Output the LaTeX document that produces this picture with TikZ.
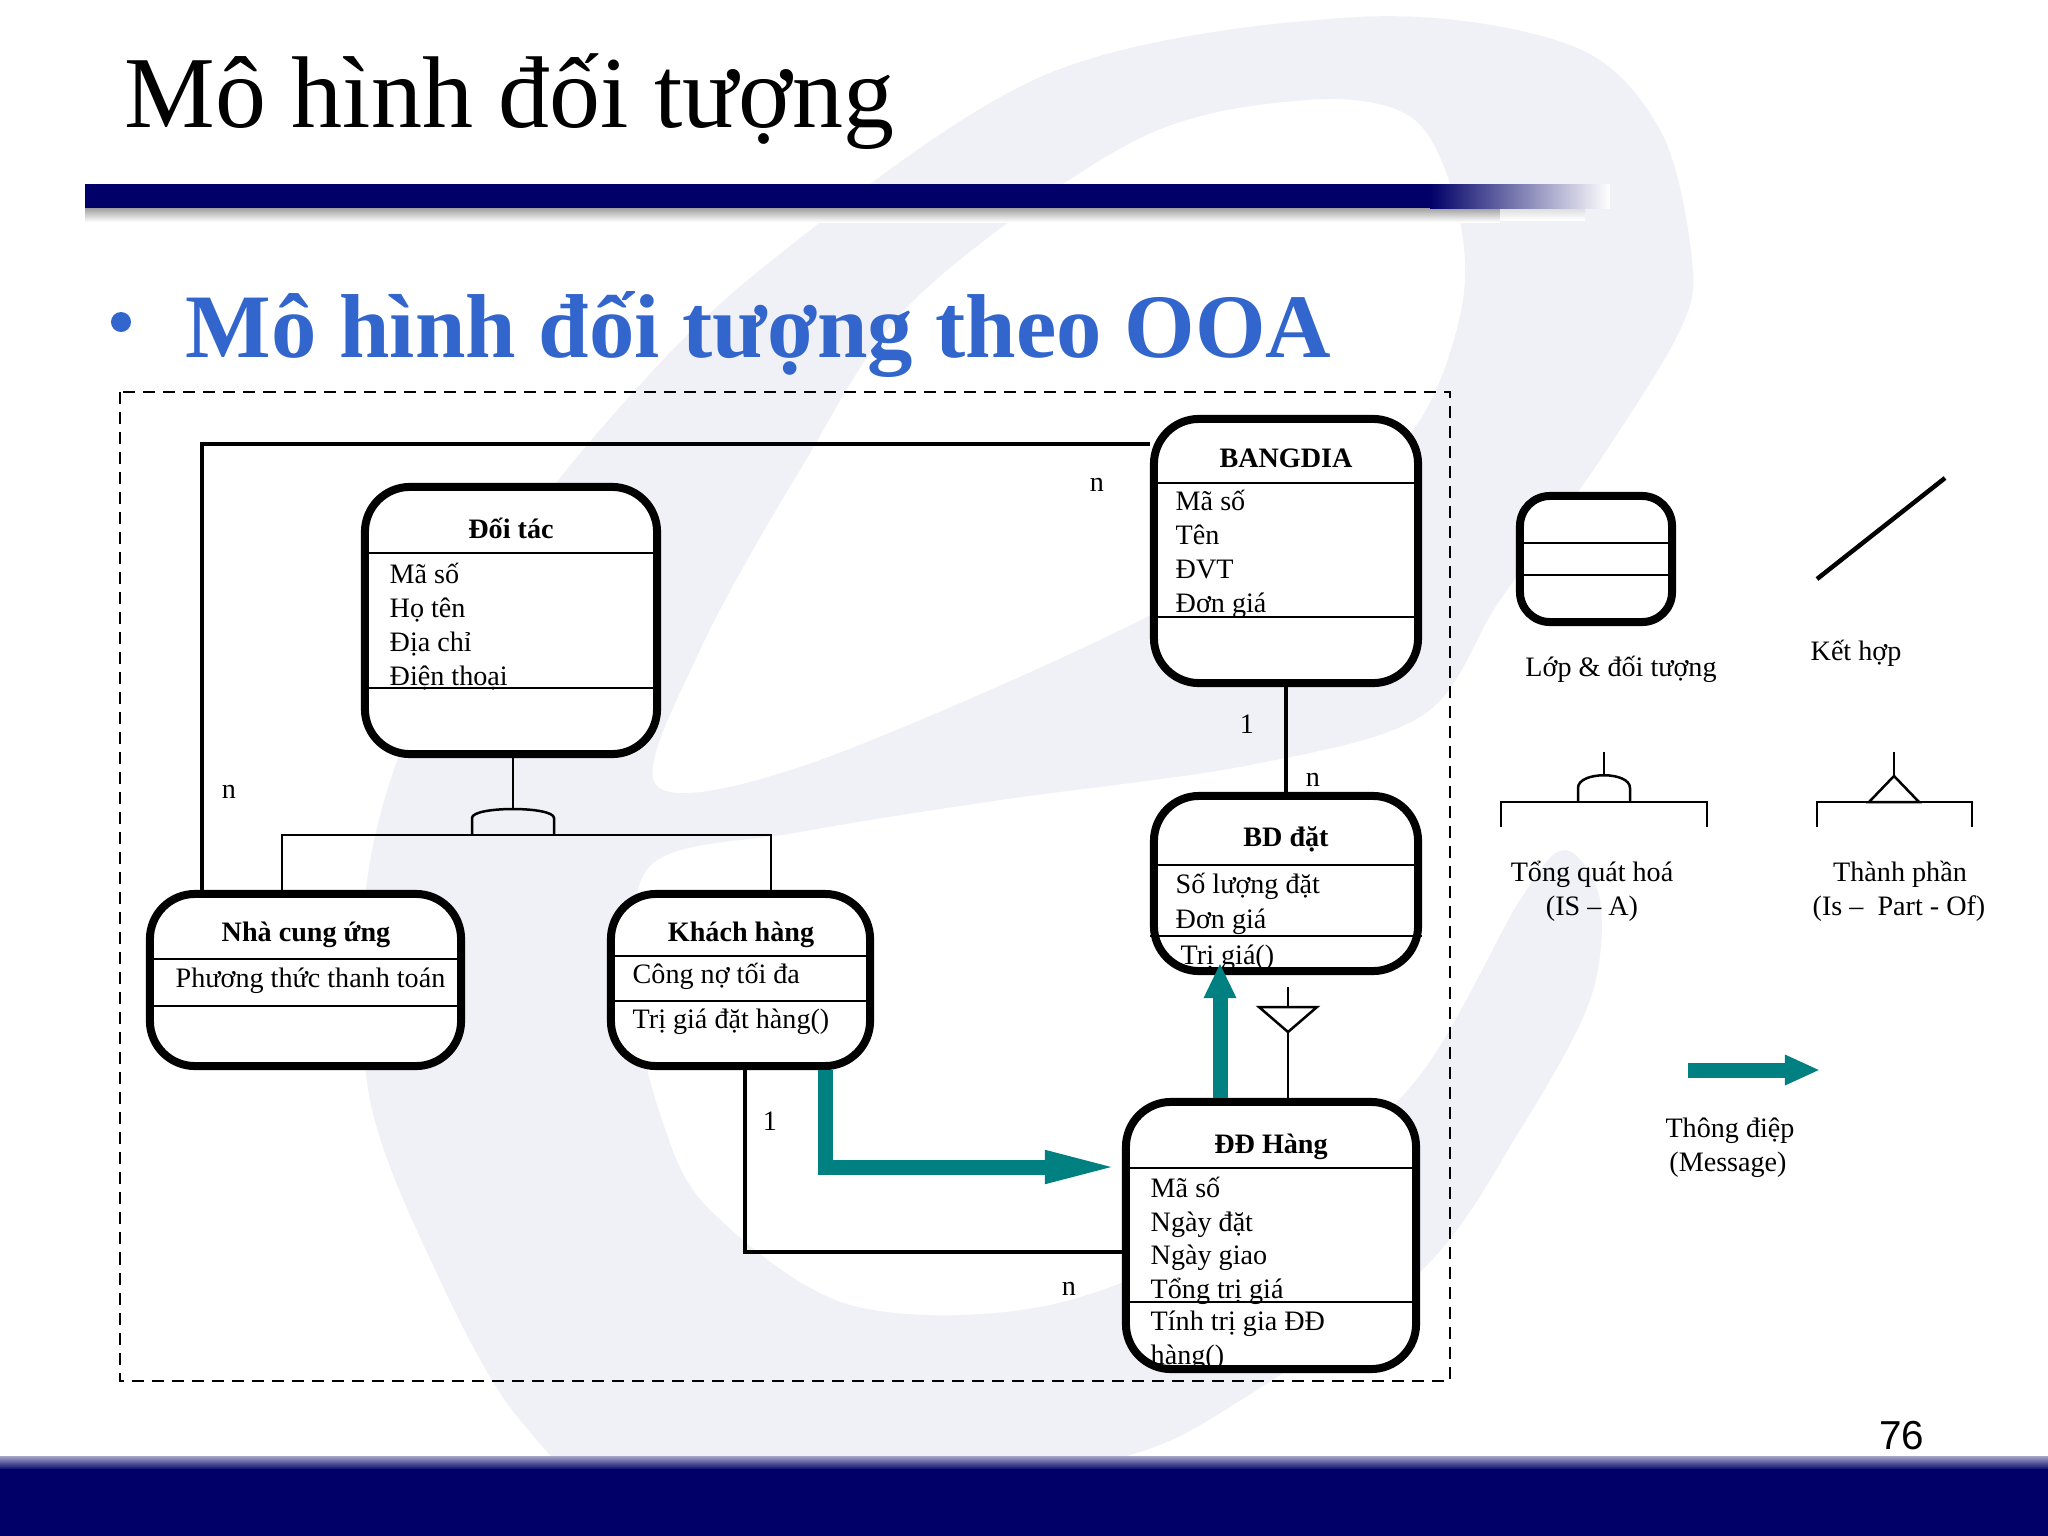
\documentclass[tikz,border=0pt]{standalone}
\usepackage{fontspec}
\setmainfont{Liberation Serif}
\newfontfamily\arialfont{Liberation Sans}
\usetikzlibrary{arrows.meta}
\definecolor{navybar}{RGB}{0,0,104}
\definecolor{titleblue}{RGB}{51,102,204}
\definecolor{msgteal}{RGB}{0,128,128}
\definecolor{wmark}{RGB}{240,240,247}

\begin{document}
\begin{tikzpicture}[x=0.01cm,y=-0.01cm,
    classbox/.style={draw, line width=0.08cm, rounded corners=0.45cm, fill=white, inner sep=0pt},
    txt/.style={inner sep=0pt, font=\fontsize{8pt}{9.7pt}\selectfont},
    head/.style={inner sep=0pt, anchor=base, font=\fontsize{8pt}{9.7pt}\selectfont\bfseries},
    attr/.style={txt, anchor=base west},
    lbl/.style={txt, anchor=base},
    sep/.style={line width=0.025cm},
    assoc/.style={line width=0.045cm},
    thinline/.style={line width=0.025cm},
    msg/.style={draw=msgteal, line width=0.15cm, line join=miter}]
  \useasboundingbox (0,0) rectangle (2048,1536);
  \fill[white] (0,0) rectangle (2048,1536);

  % watermark letter in the background
  \fill[wmark, even odd rule]
    plot[smooth cycle, tension=0.55] coordinates {(401,750) (480,590) (600,430) (760,270) (1045,75) (1358,17)
      (1570,45) (1660,130) (1692,260) (1680,330) (1600,460) (1500,600) (1423,715) (1250,765) (1000,800)
      (800,832) (650,866) (636,1000) (662,1120) (710,1210) (850,1305) (1050,1305) (1250,1220) (1413,1084)
      (1520,900) (1565,850) (1600,900) (1590,1000) (1520,1130) (1423,1269) (1241,1400) (1123,1457)
      (900,1495) (620,1490) (520,1420) (440,1280) (370,1100) (365,900)}
    plot[smooth cycle, tension=0.55] coordinates {(656,785) (700,650) (800,470) (914,300) (1136,140)
      (1306,100) (1411,117) (1455,200) (1463,300) (1420,420) (1320,520) (1100,640) (800,767)};

  % slide title and bars
  \shade[top color=black!40, bottom color=white] (85,207) rectangle (1500,222);
  \shade[top color=black!15, bottom color=white] (1500,207) rectangle (1585,220);
  \fill[navybar] (85,184) rectangle (1431,208);
  \shade[left color=navybar, middle color=navybar!75, right color=white] (1430,184) rectangle (1610,208);
  \node[anchor=base west, inner sep=0pt, font=\fontsize{29pt}{34pt}\selectfont] (title) at (124,127) {Mô hình đối tượng};
  \node[circle, fill=titleblue, minimum size=0.2cm, inner sep=0pt] (bullet) at (121,322) {};
  \node[anchor=base west, inner sep=0pt, text=titleblue, font=\fontsize{25.8pt}{30pt}\selectfont\bfseries] (subtitle) at (185,357) {Mô hình đối tượng theo OOA};
  \shade[top color=navybar!35, bottom color=navybar] (0,1456) rectangle (2048,1470);
  \fill[navybar] (0,1469) rectangle (2048,1536);
  \node[anchor=base east, inner sep=0pt, font=\arialfont\fontsize{11.5pt}{14pt}\selectfont] (pagenum) at (1925,1449) {76};

  \draw[line width=0.02cm, dash pattern=on 0.12cm off 0.08cm] (120,392) rectangle (1450,1381);

  % classes
  \node[classbox, minimum width=2.92cm, minimum height=2.67cm] (doitac) at (511,620.5) {};
  \node[classbox, minimum width=2.64cm, minimum height=2.64cm] (bangdia) at (1286,551) {};
  \node[classbox, minimum width=2.64cm, minimum height=1.75cm] (bddat) at (1286,883.5) {};
  \node[classbox, minimum width=2.90cm, minimum height=2.67cm] (ddhang) at (1271,1235.5) {};
  \node[classbox, minimum width=3.11cm, minimum height=1.72cm] (nhacc) at (305.5,980) {};
  \node[classbox, minimum width=2.59cm, minimum height=1.72cm] (khachhang) at (740.5,980) {};
  \node[classbox, minimum width=1.52cm, minimum height=1.26cm, rounded corners=0.3cm] (lop) at (1596,559) {};
  \foreach \bx/\yy in {doitac/553, doitac/688, bangdia/483, bangdia/617, bddat/865, bddat/936,
      ddhang/1168, ddhang/1302, nhacc/959, nhacc/1006, khachhang/956, khachhang/1001, lop/543, lop/575}
    \draw[sep] (\bx.west |- 0,\yy) -- (\bx.east |- 0,\yy);

  \node[head] (doitac-t) at (511,538) {Đối tác};
  \foreach \t [count=\i] in {Mã số, Họ tên, Địa chỉ, Điện thoại}
    \node[attr] (doitac-a\i) at (389,549+34*\i) {\t};
  \node[head] (bangdia-t) at (1286,467) {BANGDIA};
  \foreach \t [count=\i] in {Mã số, Tên, ĐVT, Đơn giá}
    \node[attr] (bangdia-a\i) at (1175,476+34*\i) {\t};
  \node[head] (bddat-t) at (1286,846) {BD đặt};
  \node[attr] (bddat-a1) at (1175,893) {Số lượng đặt};
  \node[attr] (bddat-a2) at (1175,928) {Đơn giá};
  \node[attr] (bddat-m1) at (1180,964) {Trị giá()};
  \node[head] (ddhang-t) at (1271,1153) {ĐĐ Hàng};
  \foreach \t [count=\i] in {Mã số, Ngày đặt, Ngày giao, Tổng trị giá}
    \node[attr] (ddhang-a\i) at (1150,1164+33.5*\i) {\t};
  \node[attr] (ddhang-m1) at (1150,1330) {Tính trị gia ĐĐ};
  \node[attr] (ddhang-m2) at (1150,1364) {hàng()};
  \node[head] (nhacc-t) at (306,941) {Nhà cung ứng};
  \node[attr] (nhacc-a1) at (175,987) {Phương thức thanh toán};
  \node[head] (khachhang-t) at (741,941) {Khách hàng};
  \node[attr] (khachhang-a1) at (632,983) {Công nợ tối đa};
  \node[attr] (khachhang-m1) at (632,1028) {Trị giá đặt hàng()};

  % associations
  \coordinate (c-bn) at (202,444);
  \coordinate (c-kd) at (745,1252);
  \draw[assoc] (bangdia.west |- c-bn) -| (nhacc.north -| c-bn);
  \draw[assoc] (bangdia.south) -- (bddat.north);
  \draw[assoc] (khachhang.south -| c-kd) |- (ddhang.west |- c-kd);
  \node[lbl] (m-bn1) at (1097,491) {n};
  \node[lbl] (m-bn2) at (229,798) {n};
  \node[lbl] (m-bb1) at (1247,733) {1};
  \node[lbl] (m-bb2) at (1313,786) {n};
  \node[lbl] (m-kd1) at (770,1130) {1};
  \node[lbl] (m-kd2) at (1069,1295) {n};

  % generalization
  \coordinate (isa) at (513,835);
  \draw[thinline] (doitac.south -| isa) -- (isa |- 0,809);
  \draw[thinline] (472,835) -- (472,818) .. controls (472,806) and (554,806) .. (554,818) -- (554,835);
  \draw[thinline] (nhacc.north -| 282,0) -- (282,835) -- (771,835) -- (khachhang.north -| 771,0);

  % part of
  \coordinate (po) at (1288,1007);
  \draw[thinline] (bddat.south -| po) ++(0,12) -- (po);
  \draw[thinline] (1259,1007) -- (1317,1007) -- (1288,1032) -- cycle;
  \draw[thinline] (1288,1032) -- (ddhang.north -| po);

  % messages
  \coordinate (m-1) at (825,1167);
  \coordinate (m-2) at (1220,963);
  \draw[msg, -{Triangle[length=0.77cm,width=0.29cm]}] (khachhang.south -| m-1) |- (ddhang.west |- m-1);
  \draw[msg, -{Triangle[length=0.35cm,width=0.30cm]}] (ddhang.north -| m-2) -- (m-2);

  % legend
  \node[lbl] (lop-l) at (1621,676) {Lớp \& đối tượng};
  \draw[assoc] (1817,579) -- (1945,478);
  \node[lbl] (kh-l) at (1856,660) {Kết hợp};
  \draw[thinline] (1604,752) -- (1604,775);
  \draw[thinline] (1578,802) -- (1578,788) .. controls (1578,771) and (1630,771) .. (1630,788) -- (1630,802);
  \draw[thinline] (1501,827) -- (1501,802) -- (1707,802) -- (1707,827);
  \node[lbl] (isa-l1) at (1592,881) {Tổng quát hoá};
  \node[lbl] (isa-l2) at (1592,915) {(IS – A)};
  \draw[thinline] (1894,752) -- (1894,776);
  \draw[thinline] (1894,776) -- (1869,802) -- (1919,802) -- cycle;
  \draw[thinline] (1817,827) -- (1817,802) -- (1972,802) -- (1972,827);
  \node[lbl] (po-l1) at (1900,881) {Thành phần};
  \node[lbl] (po-l2) at (1899,915) {(Is –~~Part - Of)};
  \coordinate (lm-a) at (1688,1070);
  \coordinate (lm-b) at (1820,1070);
  \draw[msg, -{Triangle[length=0.35cm,width=0.28cm]}] (lm-a) -- (lm-b);
  \node[lbl] (msg-l1) at (1730,1137) {Thông điệp};
  \node[lbl] (msg-l2) at (1728,1171) {(Message)};
\end{tikzpicture}
\end{document}
